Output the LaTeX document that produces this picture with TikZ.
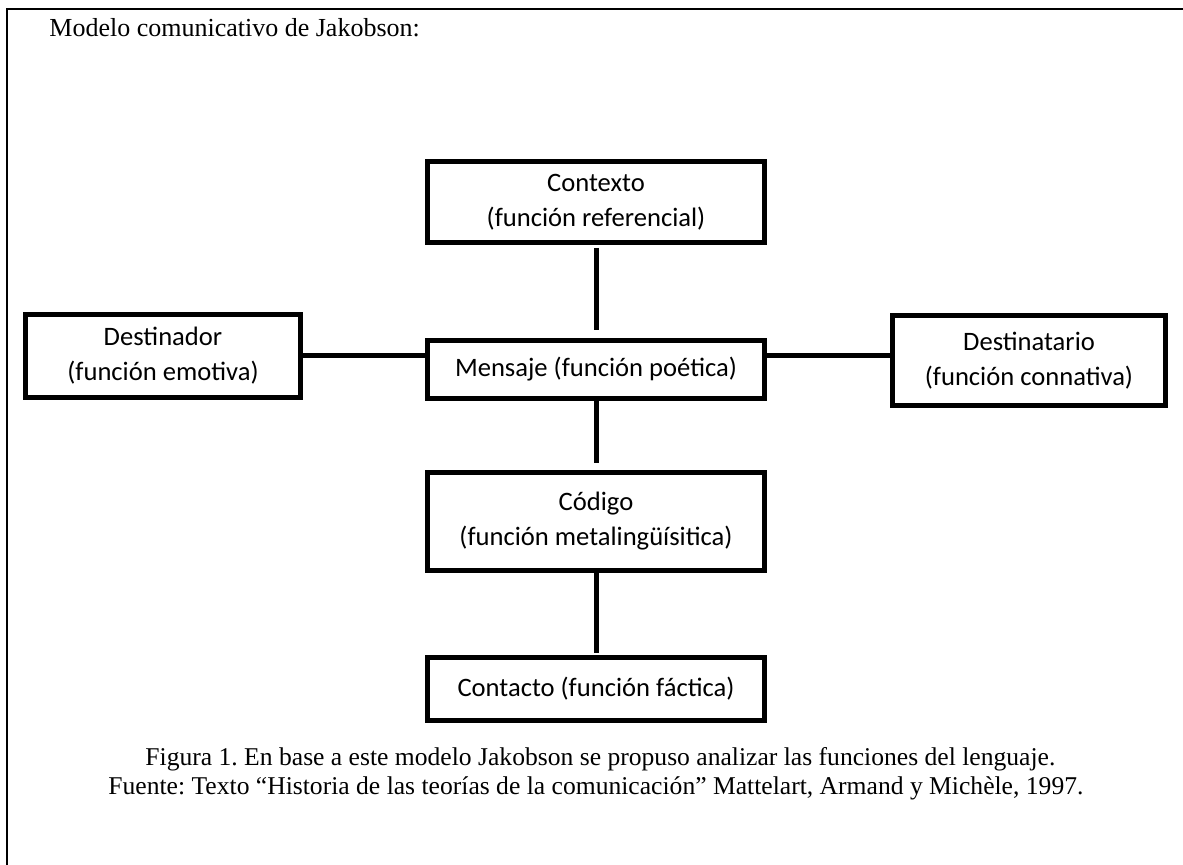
\documentclass[tikz,border=0pt]{standalone}
\usepackage{fontspec}
\setmainfont{Liberation Serif}
\newfontfamily\boxfont{Carlito}
\usetikzlibrary{positioning}
\frenchspacing

\begin{document}
\begin{tikzpicture}[x=0.5pt, y=-0.5pt,
    box/.style = {draw, line width=2.5pt, align=center, inner sep=0pt, font=\boxfont\fontsize{13.3}{17.5}\selectfont},
    link/.style = {line width=2.5pt},
    txt/.style = {anchor=base west, inner sep=0pt, font=\fontsize{12.8}{15}\selectfont}]
		\useasboundingbox (0,0) rectangle (1183,865);
		\draw[line width=1pt] (1183,9) -- (7,9) -- (7,865);
		\node[txt, font=\fontsize{13}{15}\selectfont] (title) at (49,37) {Modelo comunicativo de Jakobson:};
		\node[box, minimum width=168.5pt, minimum height=40.5pt] (ctx) at (596,202) {Contexto\\(función referencial)};
		\node[box, minimum width=168.5pt, minimum height=29pt] (msg) [below of=ctx, node distance=83.75pt] {Mensaje (función poética)};
		\node[box, minimum width=137.5pt, minimum height=41.5pt] (emi) [left of=msg, node distance=216.5pt, yshift=6.75pt] {Destinador\\(función emotiva)};
		\node[box, minimum width=136.5pt, minimum height=45pt] (rec) [right of=msg, node distance=216.5pt, yshift=4.5pt] {Destinatario\\(función connativa)};
		\node[box, minimum width=168.5pt, minimum height=49pt] (cod) [below of=msg, node distance=76pt] {Código\\(función metalingüísitica)};
		\node[box, minimum width=168.5pt, minimum height=31.5pt] (con) [below of=cod, node distance=83.75pt] {Contacto (función fáctica)};
		\node[txt] (fig) at (145,765) {Figura 1. En base a este modelo Jakobson se propuso analizar las funciones del lenguaje.};
		\node[txt] (src) at (108,794) {Fuente: Texto “Historia de las teorías de la comunicación” Mattelart, Armand y Michèle, 1997.};
		\draw[link] (emi.east) -- (emi.east -| msg.west);
		\draw[link] (msg.east |- emi.east) -- (rec.west |- emi.east);
		\draw[link, shorten <=1.5pt, shorten >=4pt] (ctx) -- (msg);
		\draw[link, shorten >=3.5pt] (msg) -- (cod);
		\draw[link, shorten >=1pt] (cod) -- (con);
	\end{tikzpicture}
\end{document}
